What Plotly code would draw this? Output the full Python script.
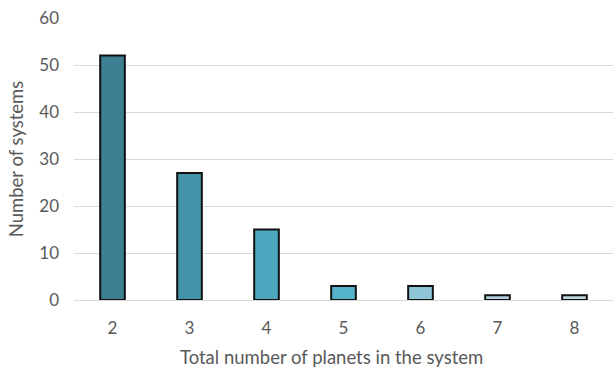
import plotly.graph_objects as go

planets = ["2", "3", "4", "5", "6", "7", "8"]
systems = [52, 27, 15, 3, 3, 1, 1]
colors = ["#3d7f91", "#4494a9", "#4da7bf", "#55b3cb", "#8ec6d6", "#afd0dc", "#bfd6de"]

fig = go.Figure(go.Bar(
    x=planets, y=systems,
    marker=dict(color=colors, line=dict(color="#111111", width=2)),
))

font = "Lato, 'Open Sans', sans-serif"
fig.update_layout(
    width=613, height=369,
    margin=dict(l=74, r=0, t=18, b=69),
    plot_bgcolor="white", paper_bgcolor="white",
    bargap=0.68,
    showlegend=False,
    font=dict(family=font, color="#595959", size=17),
    xaxis=dict(
        type="category",
        showgrid=False, showline=False, ticks="", tickfont=dict(size=17),
        ticklabelstandoff=16,
    ),
    yaxis=dict(
        range=[0, 60], dtick=10,
        title=dict(text="Number of systems", font=dict(size=18.5), standoff=10),
        showgrid=True, gridcolor="#d9d9d9", gridwidth=1,
        zeroline=True, zerolinecolor="#d9d9d9", zerolinewidth=1,
        showline=False, ticks="", tickfont=dict(size=17),
        ticklabelstandoff=14,
    ),
    annotations=[dict(
        text="Total number of planets in the system",
        xref="paper", yref="paper", x=0.477, y=-0.202,
        xanchor="center", yanchor="middle", showarrow=False,
        font=dict(size=18.5, color="#595959"),
    )],
)

fig.write_html("out.html", config={"displayModeBar": False},
               post_script="document.body.style.margin='0';")
